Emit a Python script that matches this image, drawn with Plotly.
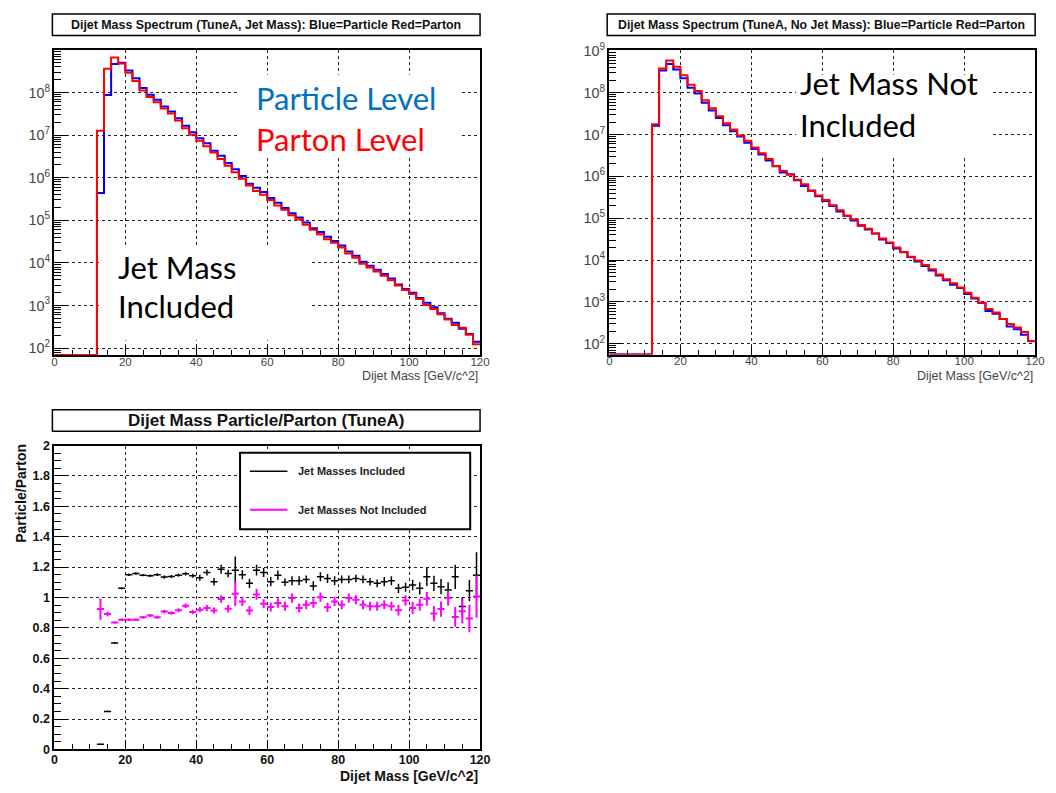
import plotly.graph_objects as go

W, H = 1056, 793

# ---------------- data ----------------
bin_edges = list(range(0, 122, 2))          # 0 .. 120 GeV, 2 GeV bins
ratio_centers = list(range(13, 121, 2))     # 13 .. 119

# Top-left: TuneA, jet mass included
tl_particle = [0, 0, 0, 0, 0, 0,
               4.4e5, 8.7e7, 4.7e8, 5.0e8, 3.3e8, 2.16e8, 1.28e8, 8.9e7, 6.8e7, 4.7e7,
               3.6e7, 2.5e7, 1.67e7, 1.17e7, 8.4e6, 6.4e6, 4.3e6, 3.27e6, 2.2e6, 1.59e6,
               1.1e6, 7.2e5, 5.8e5, 4.6e5, 3.33e5, 2.57e5, 1.95e5, 1.46e5, 1.16e5, 8.9e4,
               6.5e4, 5.3e4, 4.1e4, 3.27e4, 2.56e4, 1.86e4, 1.48e4, 1.07e4, 8.6e3, 6.9e3,
               5.5e3, 4.3e3, 3.1e3, 2.45e3, 2.0e3, 1.5e3, 1.16e3, 910, 660, 490,
               395, 285, 215, 141]
tl_parton = [0, 0, 0, 0, 0, 0,
             1.26e7, 3.63e8, 6.6e8, 4.8e8, 2.9e8, 1.86e8, 1.12e8, 7.8e7, 5.9e7, 4.2e7,
             3.2e7, 2.2e7, 1.45e7, 1.02e7, 7.4e6, 5.5e6, 3.9e6, 2.75e6, 1.9e6, 1.35e6,
             9.5e5, 6.6e5, 4.9e5, 4.0e5, 3.0e5, 2.24e5, 1.78e5, 1.32e5, 1.05e5, 7.9e4,
             6.0e4, 4.7e4, 3.6e4, 2.95e4, 2.3e4, 1.66e4, 1.32e4, 9.5e3, 7.8e3, 6.3e3,
             5.0e3, 3.9e3, 2.95e3, 2.3e3, 1.86e3, 1.41e3, 1.02e3, 830, 620, 470,
             350, 300, 205, 123]

# Top-right: TuneA, no jet mass
tr_particle = [0, 0, 0, 0, 0, 0,
               1.64e7, 3.4e8, 4.9e8, 3.6e8, 2.24e8, 1.32e8, 9.6e7, 5.8e7, 3.75e7, 2.5e7,
               1.67e7, 1.21e7, 9.0e6, 6.4e6, 4.5e6, 3.35e6, 2.4e6, 1.76e6, 1.25e6, 1.13e6,
               8.1e5, 5.9e5, 4.6e5, 3.35e5, 2.58e5, 1.96e5, 1.46e5, 1.15e5, 8.8e4, 6.6e4,
               5.4e4, 4.3e4, 3.1e4, 2.56e4, 1.9e4, 1.54e4, 1.18e4, 9.3e3, 7.2e3, 5.65e3,
               4.3e3, 3.3e3, 2.56e3, 2.16e3, 1.55e3, 1.2e3, 946, 608, 517, 388,
               257, 223, 164, 116]
tr_parton = [0, 0, 0, 0, 0, 0,
             1.78e7, 3.8e8, 5.9e8, 4.2e8, 2.63e8, 1.55e8, 1.1e8, 6.6e7, 4.3e7, 2.75e7,
             1.86e7, 1.32e7, 9.5e6, 7.1e6, 4.9e6, 3.6e6, 2.63e6, 1.78e6, 1.35e6, 1.1e6,
             8.3e5, 6.5e5, 4.5e5, 3.5e5, 2.75e5, 2.04e5, 1.55e5, 1.15e5, 9.5e4, 6.9e4,
             5.6e4, 4.3e4, 3.3e4, 2.63e4, 2.0e4, 1.55e4, 1.2e4, 9.8e3, 7.6e3, 6.0e3,
             4.5e3, 3.5e3, 2.8e3, 2.2e3, 1.66e3, 1.26e3, 955, 680, 560, 390,
             295, 245, 190, 115]

# Bottom: ratio particle/parton
ratio_incl = [0.035, 0.25, 0.70, 1.06,
              1.15, 1.158, 1.147, 1.143, 1.15, 1.134, 1.138, 1.147, 1.156, 1.143,
              1.13, 1.164, 1.104, 1.186, 1.158, 1.18, 1.15, 1.093, 1.18, 1.164,
              1.104, 1.147, 1.10, 1.11, 1.11, 1.119, 1.076, 1.136, 1.125, 1.11,
              1.119, 1.119, 1.125, 1.119, 1.104, 1.093, 1.104, 1.11, 1.06, 1.067,
              1.082, 1.06, 1.136, 1.093, 1.071, 1.05, 1.136, 0.94, 1.045, 1.147]
err_incl = [0.003, 0.004, 0.006, 0.008,
            0.008, 0.008, 0.008, 0.009, 0.009, 0.01, 0.01, 0.011, 0.012, 0.013,
            0.02, 0.02, 0.025, 0.03, 0.025, 0.09, 0.03, 0.03, 0.035, 0.03,
            0.03, 0.03, 0.025, 0.03, 0.03, 0.025, 0.03, 0.03, 0.03, 0.03,
            0.025, 0.025, 0.025, 0.025, 0.025, 0.025, 0.03, 0.03, 0.03, 0.03,
            0.035, 0.04, 0.06, 0.05, 0.05, 0.05, 0.08, 0.06, 0.07, 0.15]
ratio_noincl = [0.924, 0.892, 0.836, 0.853,
                0.853, 0.853, 0.87, 0.881, 0.87, 0.907, 0.898, 0.916, 0.946, 0.905,
                0.92, 0.93, 0.914, 0.99, 0.926, 1.024, 0.974, 0.914, 1.02, 0.959,
                0.937, 0.963, 0.942, 0.996, 0.931, 0.952, 0.963, 1.002, 0.935, 0.974,
                0.952, 0.996, 0.985, 0.952, 0.942, 0.942, 0.952, 0.942, 0.916, 0.98,
                0.931, 0.952, 0.991, 0.894, 0.924, 0.996, 0.872, 0.909, 0.862, 1.006]
err_noincl = [0.07, 0.015, 0.008, 0.008,
              0.008, 0.008, 0.008, 0.01, 0.01, 0.012, 0.012, 0.013, 0.015, 0.015,
              0.018, 0.02, 0.02, 0.025, 0.025, 0.08, 0.03, 0.03, 0.035, 0.03,
              0.03, 0.03, 0.03, 0.03, 0.03, 0.03, 0.03, 0.03, 0.03, 0.03,
              0.03, 0.03, 0.03, 0.03, 0.03, 0.03, 0.03, 0.03, 0.035, 0.035,
              0.04, 0.04, 0.045, 0.05, 0.05, 0.05, 0.065, 0.08, 0.09, 0.14]

# ---------------- layout helpers (positions in window pixels) ----------------
TL = dict(x0=52, x1=483, y0=42, y1=353)
TR = dict(x0=614, x1=1045, y0=42, y1=352.7)
BT = dict(x0=52, x1=483, y0=445.5, y1=755.7)
TL_YR = [1.84, 8.995]
TR_YR = [1.74, 9.02]


def px(p):
    return p / W


def py(p):
    return 1 - p / H


def step_xy(values, floor):
    ys = [v if v > 0 else floor for v in values]
    return bin_edges, ys + [ys[-1]]


SANS = "Liberation Sans"
BIG = "Lato"

fig = go.Figure()

for vals, col, xa, ya, yr in [
    (tl_particle, "#0000ff", "x", "y", TL_YR),
    (tl_parton, "#ff0000", "x", "y", TL_YR),
    (tr_particle, "#0000ff", "x2", "y2", TR_YR),
    (tr_parton, "#ff0000", "x2", "y2", TR_YR),
]:
    xs, ys = step_xy(vals, 10 ** yr[0])
    fig.add_trace(go.Scatter(x=xs, y=ys, mode="lines", line=dict(color=col, width=2, shape="hv"),
                             xaxis=xa, yaxis=ya, showlegend=False, hoverinfo="skip"))

for vals, errs, col, th in [(ratio_incl, err_incl, "#000000", 1.5),
                            (ratio_noincl, err_noincl, "#ff00ff", 2)]:
    fig.add_trace(go.Scatter(
        x=ratio_centers, y=vals, mode="markers", marker=dict(size=1, color=col),
        error_x=dict(type="constant", value=1, width=0, thickness=th, color=col),
        error_y=dict(type="data", array=errs, width=0, thickness=th, color=col),
        xaxis="x3", yaxis="y3", showlegend=False, hoverinfo="skip"))


def xaxis(box, anchor, font, standoff):
    return dict(domain=[px(box["x0"]), px(box["x1"])], anchor=anchor, range=[0, 120],
                tickvals=[0, 20, 40, 60, 80, 100, 120], showgrid=True, gridcolor="#222222",
                griddash="dot", gridwidth=1, ticks="inside", ticklen=9, tickwidth=1,
                tickcolor="black", ticklabelstandoff=standoff,
                minor=dict(ticks="inside", ticklen=5, dtick=5, tick0=0, tickcolor="black",
                           showgrid=False),
                showline=True, mirror=True, linecolor="black", linewidth=2,
                zeroline=False, layer="below traces", tickfont=font, fixedrange=True)


def logyaxis(box, anchor, yr, font):
    return dict(domain=[py(box["y1"]), py(box["y0"])], anchor=anchor, type="log", range=yr,
                dtick=1, exponentformat="power", showexponent="all",
                showgrid=True, gridcolor="#222222", griddash="dot", gridwidth=1,
                ticks="inside", ticklen=13, tickwidth=1, tickcolor="black",
                minor=dict(ticks="inside", ticklen=7, dtick="D1", tickcolor="black",
                           showgrid=False),
                showline=True, mirror=True, linecolor="black", linewidth=2,
                zeroline=False, layer="below traces", tickfont=font, fixedrange=True)


top_font = dict(family=SANS, size=11.5, color="#444444")
bot_font = dict(family=SANS, size=12.5, color="#111111", weight="bold")

fig.update_layout(
    width=W, height=H, margin=dict(l=0, r=0, t=0, b=0),
    paper_bgcolor="white", plot_bgcolor="white", showlegend=False,
    xaxis=xaxis(TL, "y", top_font, -5),
    yaxis=logyaxis(TL, "x", TL_YR, top_font),
    xaxis2=xaxis(TR, "y2", top_font, -5),
    yaxis2=logyaxis(TR, "x2", TR_YR, top_font),
    xaxis3=xaxis(BT, "y3", bot_font, -2),
    yaxis3=dict(domain=[py(BT["y1"]), py(BT["y0"])], anchor="x3", range=[0, 2],
                tickvals=[0, 0.2, 0.4, 0.6, 0.8, 1, 1.2, 1.4, 1.6, 1.8, 2],
                ticktext=["0", "0.2", "0.4", "0.6", "0.8", "1", "1.2", "1.4", "1.6", "1.8", "2"],
                showgrid=True, gridcolor="#222222", griddash="dot", gridwidth=1,
                ticks="inside", ticklen=13, tickwidth=1, tickcolor="black",
                minor=dict(ticks="inside", ticklen=6.5, dtick=0.05, tick0=0,
                           tickcolor="black", showgrid=False),
                showline=True, mirror=True, linecolor="black", linewidth=2,
                zeroline=False, layer="below traces", tickfont=bot_font, fixedrange=True),
)

shapes = []
annotations = []


def prect(x0, x1, y0, y1, **kw):
    d = dict(type="rect", xref="paper", yref="paper", x0=px(x0), x1=px(x1),
             y0=py(y1), y1=py(y0), layer="above")
    d.update(kw)
    return d


# white text boxes that hide the grid behind the overlaid labels
shapes.append(prect(238, 463, 67, 152, fillcolor="white", line=dict(width=0)))
shapes.append(prect(100, 312, 242, 338, fillcolor="white", line=dict(width=0)))
shapes.append(prect(803, 1002, 67, 152, fillcolor="white", line=dict(width=0)))
# legend box in ratio panel
shapes.append(prect(240, 473, 453, 531, fillcolor="white", line=dict(color="black", width=2)))

# title boxes
for (x0, x1, y0, y1) in [(50, 483, 5, 27), (611.7, 1045, 5, 27), (50, 483, 409, 431)]:
    shapes.append(prect(x0, x1, y0, y1, fillcolor="white", line=dict(color="black", width=1.5)))

# legend line samples
shapes.append(dict(type="line", xref="paper", yref="paper", x0=px(250), x1=px(288),
                   y0=py(471.7), y1=py(471.7), line=dict(color="black", width=1.5)))
shapes.append(dict(type="line", xref="paper", yref="paper", x0=px(250), x1=px(288),
                   y0=py(511), y1=py(511), line=dict(color="#ff00ff", width=2)))


def ann(text, x, y, size, color="black", xanchor="center", family=SANS, weight="normal", **kw):
    d = dict(text=text, x=px(x), y=py(y), xref="paper", yref="paper", showarrow=False,
             xanchor=xanchor, yanchor="middle",
             font=dict(family=family, size=size, color=color, weight=weight))
    d.update(kw)
    annotations.append(d)


ann("Dijet Mass Spectrum (TuneA, Jet Mass): Blue=Particle Red=Parton", 266.5, 16, 12.4,
    color="#111111", weight="bold")
ann("Dijet Mass Spectrum (TuneA, No Jet Mass): Blue=Particle Red=Parton", 829, 16, 12.3,
    color="#111111", weight="bold")
ann("Dijet Mass Particle/Parton (TuneA)", 266.5, 420, 17, color="#111111", weight="bold")

ann("Dijet Mass [GeV/c^2]", 483, 375, 12.5, color="#444444", xanchor="right")
ann("Dijet Mass [GeV/c^2]", 1045, 375, 12.5, color="#444444", xanchor="right")
ann("Dijet Mass [GeV/c^2]", 483, 783, 14, color="#111111", xanchor="right", weight="bold")
ann("Particle/Parton", 18, 494, 14, color="#111111", weight="bold", textangle=-90)

ann("Jet Masses Included", 297, 471.7, 11, color="#222222", xanchor="left", weight="bold")
ann("Jet Masses Not Included", 297, 511, 11, color="#222222", xanchor="left", weight="bold")

ann("Particle Level", 254, 91, 31, color="#0070c0", xanchor="left", family=BIG)
ann("Parton Level", 254, 133, 31, color="#ff0000", xanchor="left", family=BIG)
ann("Jet Mass", 114, 263, 31, xanchor="left", family=BIG)
ann("Included", 114, 303, 31, xanchor="left", family=BIG)
ann("Jet Mass Not", 805, 76, 31, xanchor="left", family=BIG)
ann("Included", 805, 118, 31, xanchor="left", family=BIG)

fig.update_layout(shapes=shapes, annotations=annotations)
fig.write_html("out.html")
